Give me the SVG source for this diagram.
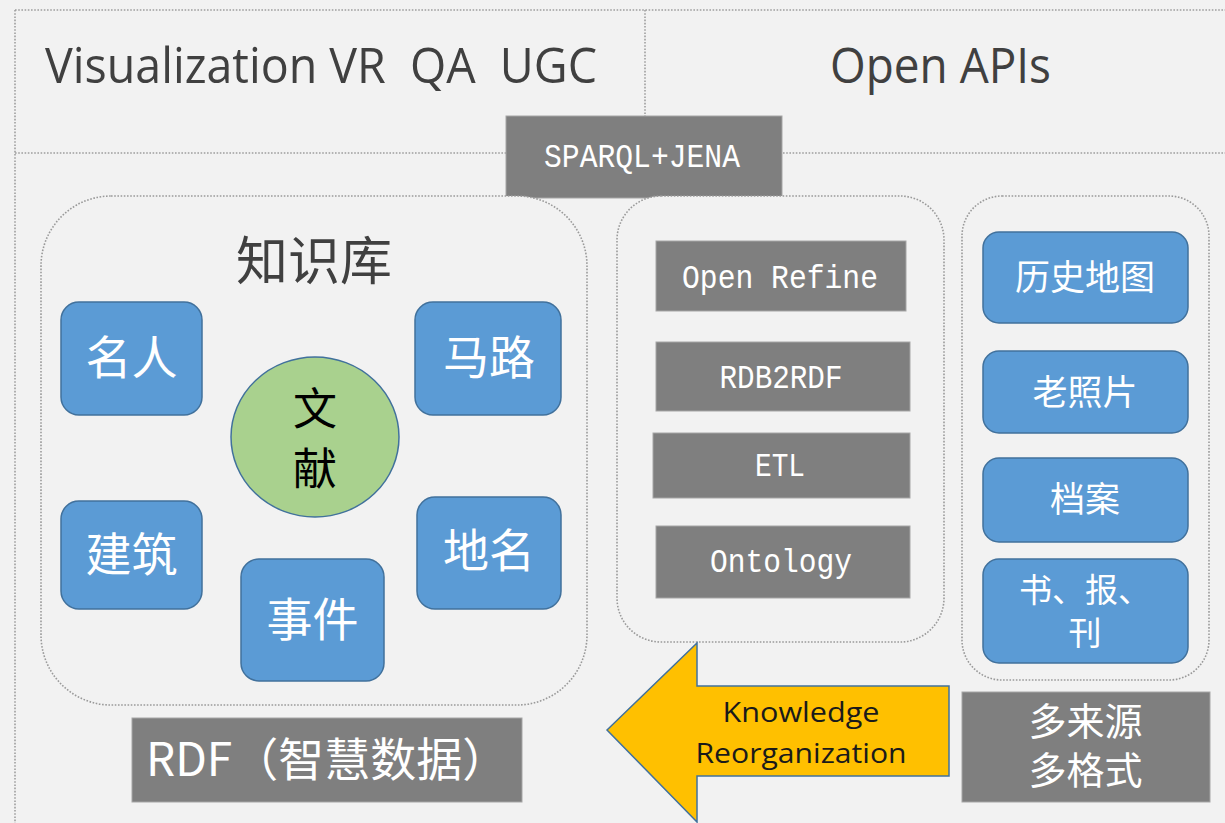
<svg xmlns="http://www.w3.org/2000/svg" width="1225" height="823" viewBox="0 0 1225 823">
<style>
.frame{fill:none;stroke:#9e9e9e;stroke-width:1.6;stroke-dasharray:1.6 1.6}
.cont{fill:#f2f2f2;stroke:#9a9a9a;stroke-width:1.6;stroke-dasharray:1.6 1.6}
.blue{fill:#5b9bd5;stroke:#41719c;stroke-width:1.5}
.gray{fill:#7f7f7f;stroke:#a6a6a6;stroke-width:1}
.title{font-family:"Open Sans","Noto Sans",sans-serif;font-size:50px;fill:#404040}
.mono{font-family:"Liberation Mono","DejaVu Sans Mono",monospace;font-size:33px;fill:#ffffff;text-anchor:middle}
.cjkw{font-family:"Noto Sans CJK SC",sans-serif;fill:#ffffff;text-anchor:middle}
.cjkd{font-family:"Noto Sans CJK SC",sans-serif;fill:#404040;text-anchor:middle}
.arrowt{font-family:"Open Sans","Noto Sans",sans-serif;font-size:28px;fill:#1a1a1a;text-anchor:middle}
</style>
<rect x="0" y="0" width="1225" height="823" fill="#f2f2f2"/>
<g id="frame">
<line class="frame" x1="15" y1="10" x2="1225" y2="10"/>
<line class="frame" x1="15" y1="10" x2="15" y2="823"/>
<line class="frame" x1="15" y1="153" x2="1225" y2="153"/>
<line class="frame" x1="645" y1="10" x2="645" y2="117"/>
</g>
<g id="title-left"><text class="title" x="45" y="83" xml:space="preserve" textLength="552" lengthAdjust="spacingAndGlyphs">Visualization VR  QA  UGC</text></g>
<g id="title-right"><text class="title" x="830" y="83" textLength="221" lengthAdjust="spacingAndGlyphs">Open APIs</text></g>
<g id="sparql">
<rect class="gray" x="506" y="116" width="276" height="82"/>
<text class="mono" x="642" y="167" textLength="196" lengthAdjust="spacingAndGlyphs">SPARQL+JENA</text>
</g>
<g id="kb">
<rect class="cont" x="41" y="196" width="546" height="509" rx="70" ry="70"/>
<text class="cjkd" x="314" y="280" font-size="52">知识库</text>
</g>
<g id="n-mingren"><rect class="blue" x="61" y="302" width="141" height="113" rx="18"/><text class="cjkw" x="131.5" y="374" font-size="46">名人</text></g>
<g id="n-malu"><rect class="blue" x="415" y="302" width="146" height="113" rx="18"/><text class="cjkw" x="489" y="374" font-size="46">马路</text></g>
<g id="n-wenxian"><ellipse cx="315" cy="437" rx="84" ry="80" fill="#a9d18e" stroke="#41719c" stroke-width="1.5"/><text font-family="Noto Sans CJK SC,sans-serif" font-size="44" fill="#000" text-anchor="middle"><tspan x="315" y="425">文</tspan><tspan x="315" y="485">献</tspan></text></g>
<g id="n-jianzhu"><rect class="blue" x="61" y="501" width="141" height="108" rx="18"/><text class="cjkw" x="131.5" y="571" font-size="46">建筑</text></g>
<g id="n-diming"><rect class="blue" x="417" y="497" width="144" height="112" rx="18"/><text class="cjkw" x="489" y="567" font-size="46">地名</text></g>
<g id="n-shijian"><rect class="blue" x="241" y="559" width="143" height="122" rx="18"/><text class="cjkw" x="312.5" y="636" font-size="46">事件</text></g>
<g id="rdf"><rect class="gray" x="132" y="718" width="390" height="84"/><text x="146" y="776" font-family="Noto Sans CJK SC,sans-serif" font-size="46" fill="#fff">RDF（智慧数据）</text></g>
<g id="tools">
<rect class="cont" x="617" y="196" width="327" height="446" rx="44" ry="44"/>
</g>
<g id="n-openrefine"><rect class="gray" x="656" y="241" width="250" height="70"/><text class="mono" x="780" y="288" textLength="196" lengthAdjust="spacingAndGlyphs">Open Refine</text></g>
<g id="n-rdb2rdf"><rect class="gray" x="656" y="342" width="254" height="69"/><text class="mono" x="781" y="388" textLength="123" lengthAdjust="spacingAndGlyphs">RDB2RDF</text></g>
<g id="n-etl"><rect class="gray" x="653" y="433" width="257" height="65"/><text class="mono" x="780" y="476" textLength="50" lengthAdjust="spacingAndGlyphs">ETL</text></g>
<g id="n-ontology"><rect class="gray" x="656" y="526" width="254" height="72"/><text class="mono" x="781" y="572" textLength="142" lengthAdjust="spacingAndGlyphs">Ontology</text></g>
<g id="sources">
<rect class="cont" x="962" y="196" width="247" height="484" rx="40" ry="40"/>
</g>
<g id="n-map"><rect class="blue" x="983" y="232" width="205" height="91" rx="16"/><text class="cjkw" x="1085" y="290" font-size="35">历史地图</text></g>
<g id="n-photo"><rect class="blue" x="983" y="351" width="205" height="82" rx="16"/><text class="cjkw" x="1085" y="405" font-size="35">老照片</text></g>
<g id="n-archive"><rect class="blue" x="983" y="458" width="205" height="84" rx="16"/><text class="cjkw" x="1085" y="512" font-size="35">档案</text></g>
<g id="n-books"><rect class="blue" x="983" y="559" width="205" height="104" rx="16"/><text class="cjkw" font-size="33"><tspan x="1085" y="602">书、报、</tspan><tspan x="1085" y="645">刊</tspan></text></g>
<g id="multi"><rect class="gray" x="962" y="692" width="248" height="110"/><text class="cjkw" font-size="38"><tspan x="1085.5" y="735">多来源</tspan><tspan x="1085.5" y="784">多格式</tspan></text></g>
<g id="connectors">
<polygon points="607,730 697,643 697,686 949,686 949,776 697,776 697,822" fill="#ffc000" stroke="#41719c" stroke-width="1.5"/>
<text class="arrowt" x="801" y="722" textLength="157" lengthAdjust="spacingAndGlyphs">Knowledge</text>
<text class="arrowt" x="801" y="763" textLength="211" lengthAdjust="spacingAndGlyphs">Reorganization</text>
</g>
</svg>
